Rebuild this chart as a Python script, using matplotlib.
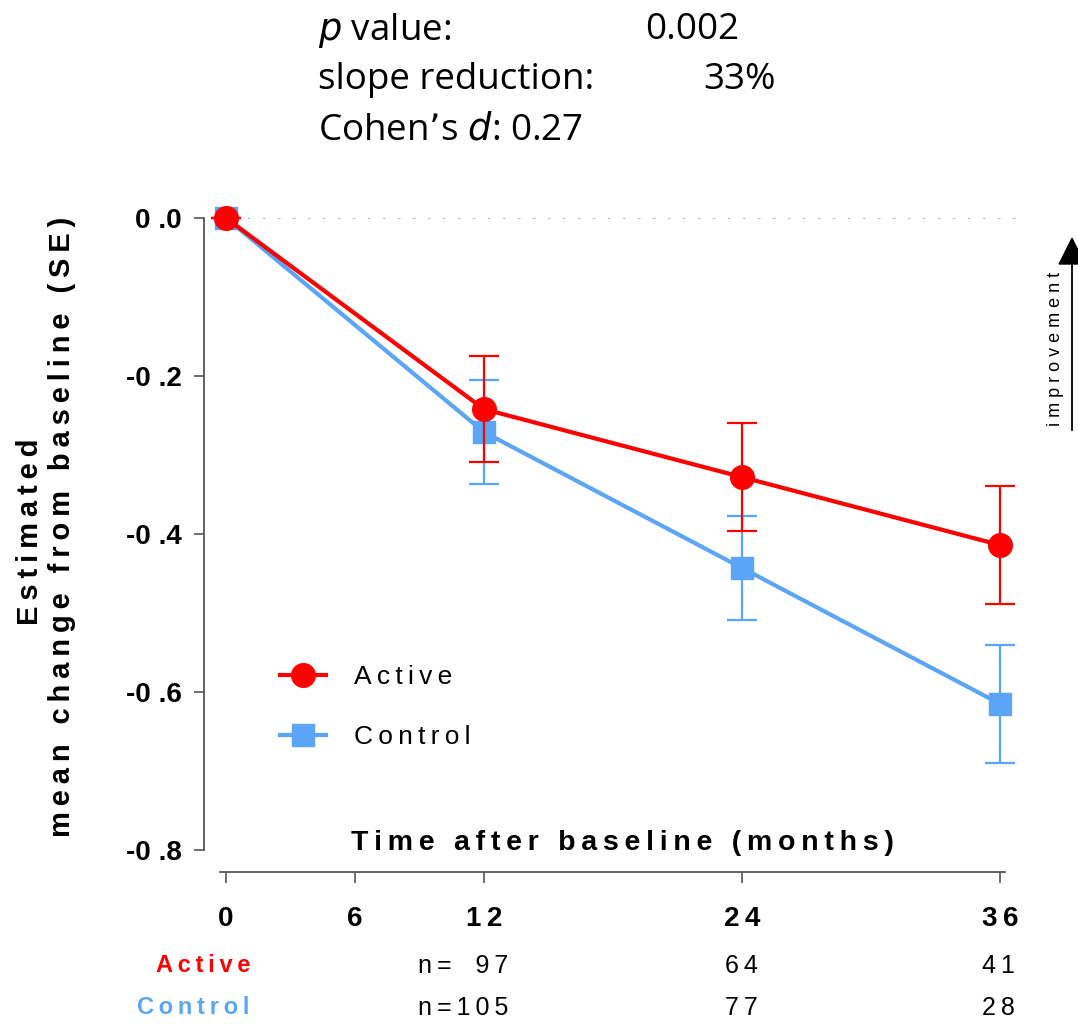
import matplotlib
matplotlib.use("Agg")
import matplotlib.pyplot as plt
from matplotlib.lines import Line2D
from matplotlib.patches import FancyArrowPatch

plt.rcParams['font.family'] = ['Liberation Sans', 'DejaVu Sans']
NARROW = ['Liberation Sans Narrow', 'Liberation Sans', 'DejaVu Sans']

months = [0, 12, 24, 36]
active = [0.0, -0.242, -0.328, -0.414]
active_se = [0.0, 0.067, 0.068, 0.075]
control = [0.0, -0.271, -0.443, -0.615]
control_se = [0.0, 0.066, 0.066, 0.075]
xticks = [0, 6, 12, 24, 36]
yticks = [0.0, -0.2, -0.4, -0.6, -0.8]
n_active = ["n=\u200797", "64", "41"]
n_control = ["n=105", "77", "28"]

RED = "#FF0000"
BLUE = "#5AA5F5"
THIN = "\u2009"
FOUR = "\u2005"
THREE = "\u2004"
HAIR = "\u200a"

def sp(s, ch=THIN):
    return ch.join(s)

W, H = 1078, 1024
fig = plt.figure(figsize=(W / 100, H / 100), dpi=100)

def fx(px):
    return px / W

def fy(py):
    return 1 - py / H

ppm = (1000 - 226) / 36.0
xmin = -(226 - 204) / ppm
xmax = 36 + (1020 - 1000) / ppm
ax = fig.add_axes([fx(204), fy(850), fx(1020) - fx(204), fy(218) - fy(850)])
ax.set_xlim(xmin, xmax)
ax.set_ylim(-0.8, 0.0)

ax.axhline(0, color="#aaaaaa", lw=1.2, ls=(0, (1.5, 7.5)), zorder=1, xmin=0.035)

ax.errorbar(months, control, yerr=control_se, color=BLUE, lw=3, marker="s",
            ms=16, capsize=11, elinewidth=1.6, capthick=1.6, clip_on=False, zorder=3)
ax.errorbar(months, active, yerr=active_se, color=RED, lw=3, marker="o",
            ms=17, capsize=11, elinewidth=1.6, capthick=1.6, clip_on=False, zorder=4)

for s in ["top", "right"]:
    ax.spines[s].set_visible(False)
ax.spines["left"].set_color("#555555")
ax.spines["left"].set_linewidth(1.3)
ax.spines["bottom"].set_position(("outward", 16))
ax.spines["bottom"].set_bounds(-0.3, 36.25)
ax.spines["bottom"].set_color("#555555")
ax.spines["bottom"].set_linewidth(1.3)

def ylab(v):
    s = f"{v:.1f}" if v != 0 else "0.0"
    return s.replace(".", THIN + HAIR + ".")

ax.set_yticks(yticks)
ax.set_yticklabels([ylab(v) for v in yticks], fontsize=20, fontweight="bold",
                   family=NARROW)
ax.set_xticks(xticks)
ax.set_xticklabels([sp(str(v)) for v in xticks], fontsize=20, fontweight="bold",
                   family=NARROW)
ax.tick_params(axis="y", length=7, width=1.2, color="#555555", pad=9)
ax.tick_params(axis="x", length=8, width=1.2, color="#555555", pad=16)

fig.text(fx(622), fy(843), sp("Time after baseline (months)", THIN), ha="center",
         va="center", fontsize=20.5, fontweight="bold", family=NARROW)

fig.text(fx(30), fy(532), sp("Estimated", THIN), rotation=90, ha="center", va="center",
         fontsize=21, fontweight="bold", family=NARROW)
fig.text(fx(62), fy(527), sp("mean change from baseline (SE)", THIN), rotation=90,
         ha="center", va="center", fontsize=21, fontweight="bold", family=NARROW)

handles = [
    Line2D([], [], color=RED, lw=3, marker="o", ms=17),
    Line2D([], [], color=BLUE, lw=3, marker="s", ms=16),
]
fig.legend(handles, [sp("Active", THIN), sp("Control", THIN)], loc="center left",
           bbox_to_anchor=(fx(280), fy(707)), frameon=False, fontsize=19,
           handlelength=1.75, handletextpad=1.05, labelspacing=1.35,
           borderpad=0, borderaxespad=0)

fig.add_artist(FancyArrowPatch(
    (fx(1072), fy(433)), (fx(1072), fy(234)), transform=fig.transFigure,
    arrowstyle="-|>,head_length=0.9,head_width=0.45", mutation_scale=20,
    color="black", lw=1.3))
fig.text(fx(1055), fy(349), " ".join("improvement"), rotation=90, ha="center",
         va="center", fontsize=13)

fig.text(fx(203), fy(966), sp("Active", THIN), color=RED, ha="center", va="center",
         fontsize=17, fontweight="bold", family=NARROW)
fig.text(fx(193), fy(1008), sp("Control", THIN), color=BLUE, ha="center", va="center",
         fontsize=17, fontweight="bold", family=NARROW)
ncols = [463, 741, 998]
for xp, a, c in zip(ncols, n_active, n_control):
    fig.text(fx(xp), fy(966), sp(a, THIN), ha="center", va="center", fontsize=18,
             family=NARROW)
    fig.text(fx(xp), fy(1008), sp(c, THIN), ha="center", va="center", fontsize=18,
             family=NARROW)

tf = dict(fontsize=26.5, family=["Open Sans", "DejaVu Sans"], va="center")
fig.text(fx(318), fy(30), r"$\it{p}$ value:", **tf)
fig.text(fx(645), fy(30), "0.002", **tf)
fig.text(fx(318), fy(80), "slope reduction:", **tf)
fig.text(fx(703), fy(80), "33%", **tf)
fig.text(fx(318), fy(130), "Cohen\u2019s $\\it{d}$: 0.27", **tf)

fig.savefig("out.png", dpi=100)
